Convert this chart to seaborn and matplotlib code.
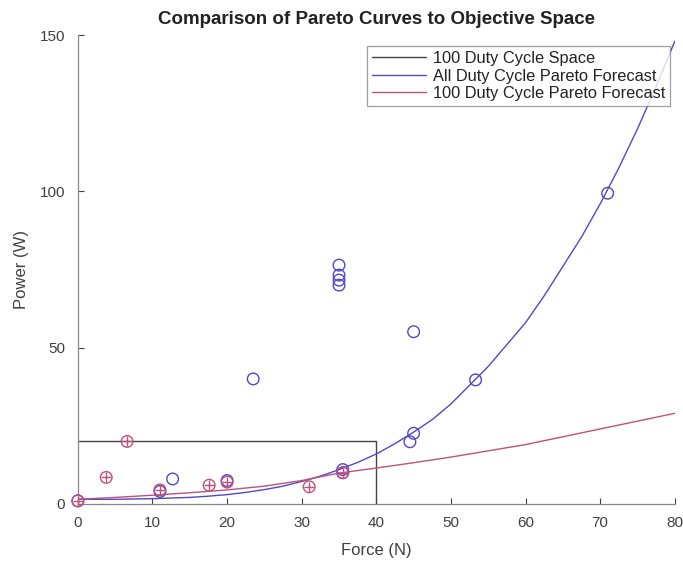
import matplotlib
matplotlib.use("Agg")
import matplotlib.pyplot as plt
import seaborn as sns
import pandas as pd

# ---- data ----
all_force = [0, 11, 12.7, 20, 23.5, 35, 35, 35, 35, 35.5, 35.5, 44.5, 45, 45, 53.3, 71]
all_power = [1, 4, 8, 7.5, 40, 76.4, 73.2, 71.6, 70, 11, 10, 19.9, 22.6, 55.1, 39.7, 99.4]

duty100_force = [0, 3.8, 6.6, 11, 17.6, 20, 31, 35.5]
duty100_power = [1, 8.5, 20, 4.5, 6, 7, 5.5, 10]

space_force = [0, 40, 40]
space_power = [20, 20, 0]

all_curve_force = [0, 2.5, 5, 7.5, 10, 12.5, 15, 17.5, 20, 22.5, 25, 27.5, 30, 32.5, 35,
                   37.5, 40, 42.5, 45, 47.5, 50, 52.5, 55, 57.5, 60, 62.5, 65, 67.5, 70,
                   72.5, 75, 77.5, 80]
all_curve_power = [1.5, 1.5, 1.5, 1.6, 1.7, 1.9, 2.1, 2.5, 3.0, 3.7, 4.6, 5.7, 7.2, 8.9, 11,
                   13.3, 16, 19.3, 23, 27, 32, 38, 44, 51, 58, 66.6, 76, 85.4, 96,
                   107.5, 120, 133.6, 148]

duty100_curve_force = [0, 5, 10, 15, 20, 25, 30, 35, 40, 45, 50, 55, 60, 65, 70, 75, 80]
duty100_curve_power = [1.5, 2.1, 2.8, 3.6, 4.5, 5.7, 7.5, 9.9, 11.5, 13.2, 15, 17, 19, 21.5, 24, 26.5, 29]

title = "Comparison of Pareto Curves to Objective Space"
xlabel = "Force (N)"
ylabel = "Power (W)"
legend_labels = ["100 Duty Cycle Space", "All Duty Cycle Pareto Forecast", "100 Duty Cycle Pareto Forecast"]
xticks = [0, 10, 20, 30, 40, 50, 60, 70, 80]
yticks = [0, 50, 100, 150]

# ---- styling ----
sns.set_theme(style="white")
plt.rcParams["font.family"] = ["Liberation Sans", "DejaVu Sans"]

BLUE = "#5048c8"
RED = "#c0507a"
GRAY = "#444444"
TXT = "#404040"

fig = plt.figure(figsize=(6.83, 5.65), dpi=100)
ax = fig.add_axes([0.114, 0.108, 0.874, 0.830])

df_space = pd.DataFrame({"x": space_force, "y": space_power})
df_all_curve = pd.DataFrame({"x": all_curve_force, "y": all_curve_power})
df_100_curve = pd.DataFrame({"x": duty100_curve_force, "y": duty100_curve_power})

sns.lineplot(data=df_space, x="x", y="y", sort=False, estimator=None, color=GRAY,
             linewidth=1.0, ax=ax, label=legend_labels[0])
sns.lineplot(data=df_all_curve, x="x", y="y", sort=False, estimator=None, color=BLUE,
             linewidth=1.0, ax=ax, label=legend_labels[1])
sns.lineplot(data=df_100_curve, x="x", y="y", sort=False, estimator=None, color=RED,
             linewidth=1.0, ax=ax, label=legend_labels[2])

df_all = pd.DataFrame({"x": all_force, "y": all_power})
df_100 = pd.DataFrame({"x": duty100_force, "y": duty100_power})
sns.scatterplot(data=df_all, x="x", y="y", marker="o", s=70, facecolors="none",
                edgecolor=BLUE, linewidth=1.0, ax=ax, legend=False, zorder=3, clip_on=False)
sns.scatterplot(data=df_100, x="x", y="y", marker="o", s=70, facecolors="none",
                edgecolor=RED, linewidth=1.0, ax=ax, legend=False, zorder=4, clip_on=False)
sns.scatterplot(data=df_100, x="x", y="y", marker="+", s=60, color=RED,
                linewidth=1.0, ax=ax, legend=False, zorder=4, clip_on=False)

ax.set_xlim(0, 80)
ax.set_ylim(0, 150)
ax.set_xticks(xticks)
ax.set_yticks(yticks)
ax.tick_params(direction="in", length=4, width=0.8, colors=TXT, labelsize=11,
               labelcolor=TXT, top=False, right=False, bottom=True, left=True)
ax.tick_params(axis="x", pad=9)
ax.tick_params(axis="y", pad=9)
for s in ["top", "right"]:
    ax.spines[s].set_visible(False)
for s in ["left", "bottom"]:
    ax.spines[s].set_color("#888888")
    ax.spines[s].set_linewidth(0.9)

ax.set_xlabel(xlabel, fontsize=12, color=TXT, labelpad=9)
ax.set_ylabel(ylabel, fontsize=12, color=TXT, labelpad=8)
ax.set_title(title, fontsize=13.5, fontweight="bold", color="#222222", pad=8)

leg = ax.legend(loc="upper right", bbox_to_anchor=(0.992, 0.976), fontsize=11.8,
                frameon=True, fancybox=False, handlelength=3.3, handletextpad=0.4,
                borderpad=0.3, labelspacing=0.15, borderaxespad=0)
leg.get_frame().set_edgecolor("#888888")
leg.get_frame().set_linewidth(0.9)
for t in leg.get_texts():
    t.set_color("#222222")

fig.savefig("out.png", dpi=100)
